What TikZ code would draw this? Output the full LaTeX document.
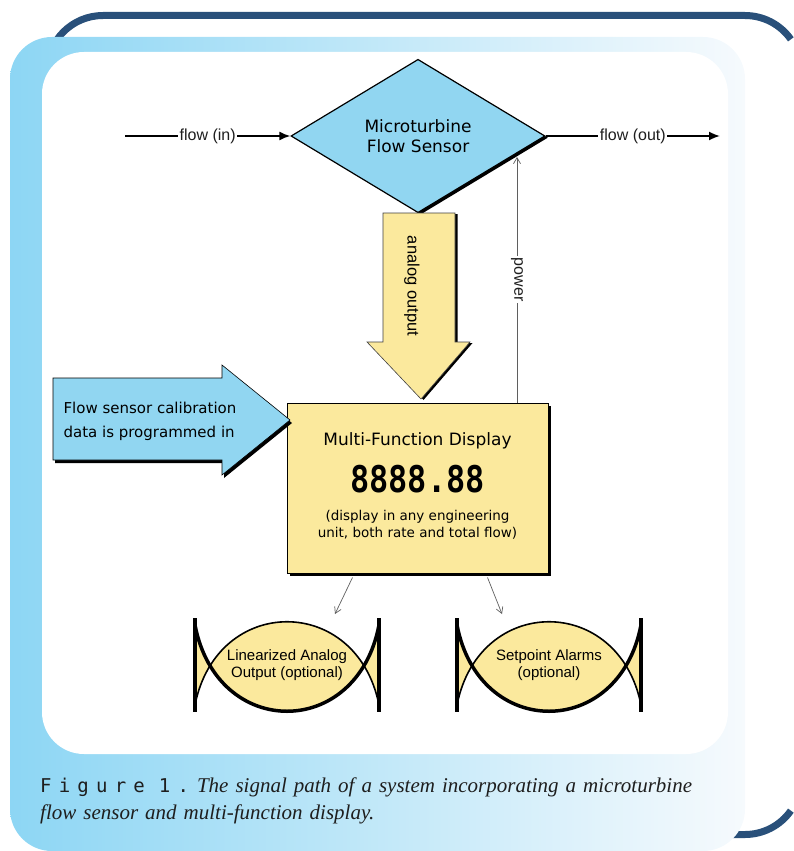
\documentclass[tikz,border=0pt]{standalone}
\usepackage{fontspec}
\setmainfont{DejaVu Sans}
\newfontfamily\labelfont{Liberation Sans}
\newfontfamily\lcdfont{DejaVu Sans Mono}
\newfontfamily\figfont[LetterSpace=38]{DejaVu Sans Mono}
\newfontfamily\captionfont{Liberation Serif}
\usetikzlibrary{arrows.meta,positioning,shapes.geometric,shadows}
\definecolor{framedark}{RGB}{41,80,122}
\definecolor{panelblue}{RGB}{141,214,244}
\definecolor{panelfade}{RGB}{246,250,253}
\definecolor{sensorblue}{RGB}{145,214,241}
\definecolor{mfdyellow}{RGB}{251,233,157}
\definecolor{wiregray}{RGB}{95,95,95}
\definecolor{inkgray}{RGB}{30,30,30}

\begin{document}
\begin{tikzpicture}[x=1pt, y=-1pt,
    blockshadow/.style 2 args={drop shadow={shadow xshift=#1, shadow yshift=#2, opacity=1, fill=black}},
    sensor/.style={diamond, draw, line width=1.2pt, fill=sensorblue, minimum width=254pt, minimum height=144pt, align=center, font=\fontsize{17}{20}\selectfont, blockshadow={3pt}{-1.7pt}},
    mfd/.style={draw, line width=1pt, fill=mfdyellow, minimum width=261pt, minimum height=170pt, blockshadow={3pt}{-3pt}},
    bigarrow/.style={draw=black!75, line width=0.6pt},
    flowline/.style={line width=1.8pt, -{Latex[length=11pt,width=9pt]}},
    flowlabel/.style={fill=white, text=inkgray, inner sep=1.5pt, font=\labelfont\fontsize{16}{18}\selectfont},
    wire/.style={wiregray, line width=0.7pt, -{Straight Barb[length=6pt,width=7pt]}},
    lenslabel/.style={align=center, font=\labelfont\fontsize{15}{17}\selectfont},
    frameline/.style={framedark, line width=7pt},
    lens/.pic={
      \fill[mfdyellow] (-92,40) .. controls (-70,-71) and (70,-71) .. (92,40) -- (92,-40) .. controls (70,75) and (-70,75) .. (-92,-40) -- cycle;
      \draw[line width=1.6pt] (-92,40) .. controls (-70,-71) and (70,-71) .. (92,40);
      \draw[line width=3.5pt] (-92,-40) .. controls (-70,75) and (70,75) .. (92,-40);
      \draw[line width=3.5pt] (-92,-47) -- (-92,47) (92,-47) -- (92,47);
    }
]
\useasboundingbox (0,0) rectangle (794,851);
\clip (0,0) rectangle (794,851);

% frame and panel
\draw[frameline] (47,120) -- (47,71.5) arc[start angle=180, end angle=270, radius=56] -- (745,15.5) arc[start angle=270, end angle=325, radius=56];
\draw[frameline] (700,834.5) -- (745,834.5) arc[start angle=90, end angle=35, radius=56];
\shade[left color=panelblue, right color=panelfade, rounded corners=42pt] (10,37) rectangle (745,851);
\fill[white, rounded corners=42pt] (42,52) rectangle (728,754);

% sensor and flow
\node[sensor] (sensor) at (418,136) {Microturbine\\Flow Sensor};
\coordinate (flowin) at (125,136);
\coordinate (flowout) at (720,136);
\draw[flowline] (flowin) -- (sensor.west) node[midway, flowlabel] {flow (in)};
\draw[flowline] (sensor.east) -- (flowout) node[midway, flowlabel] {flow (out)};

% display
\node[mfd] (mfd) at (417.5,488) {};
\node[below=30pt of mfd.north, inner sep=0pt, font=\fontsize{17}{20}\selectfont] (mfdtitle) {Multi-Function Display};
\node[below=16pt of mfdtitle, inner sep=0pt, font=\lcdfont\bfseries\fontsize{32}{32}\selectfont] (digits) {\scalebox{1}[1.15]{8888.88}};
\node[below=16pt of digits, inner sep=0pt, align=center, font=\fontsize{13.5}{17}\selectfont] (mfdnote) {(display in any engineering\\unit, both rate and total flow)};

% big arrows
\draw[bigarrow, fill=mfdyellow, blockshadow={2.5pt}{-1pt}] (383,213) -- (455,213) -- (455,342) -- (470,342) -- (421,399) -- (367,342) -- (383,342) -- cycle;
\node[rotate=-90, inner sep=0pt, font=\labelfont\fontsize{16.5}{18}\selectfont] (analog) at (412,286) {analog output};
\draw[bigarrow, draw=black, fill=sensorblue, blockshadow={2pt}{-3pt}] (53,378) -- (222,378) -- (222,365) -- (290,420) -- (222,475) -- (222,460) -- (53,460) -- cycle;
\node[anchor=west, align=left, font=\fontsize{15}{24}\selectfont] (calib) at (60,421) {Flow sensor calibration\\data is programmed in};

% power
\coordinate (powerin) at (517,157);
\draw[wire] ([xshift=99.5pt]mfd.north) -- (powerin) node[midway, flowlabel, rotate=-90] {power};

% optional outputs
\pic at (287,665) {lens};
\pic at (549,665) {lens};
\node[lenslabel] (linout) at (287,665) {Linearized Analog\\Output (optional)};
\node[lenslabel] (alarms) at (549,665) {Setpoint Alarms\\(optional)};
\coordinate (linoutin) at (335,614);
\coordinate (alarmsin) at (502,614);
\draw[wire] ([xshift=-65pt,yshift=-4pt]mfd.south) -- (linoutin);
\draw[wire] ([xshift=70pt,yshift=-4pt]mfd.south) -- (alarmsin);

% caption
\node[anchor=north west, align=left, inner sep=0pt, text width=700pt, text=inkgray, font=\fontsize{21}{27}\selectfont] (caption) at (40,778)
  {{\figfont\fontsize{19}{27}\selectfont Figure\hspace{14pt}1.}\hspace{8pt}{\captionfont\itshape The signal path of a system incorporating a microturbine\\flow sensor and multi-function display.}};
\end{tikzpicture}
\end{document}
